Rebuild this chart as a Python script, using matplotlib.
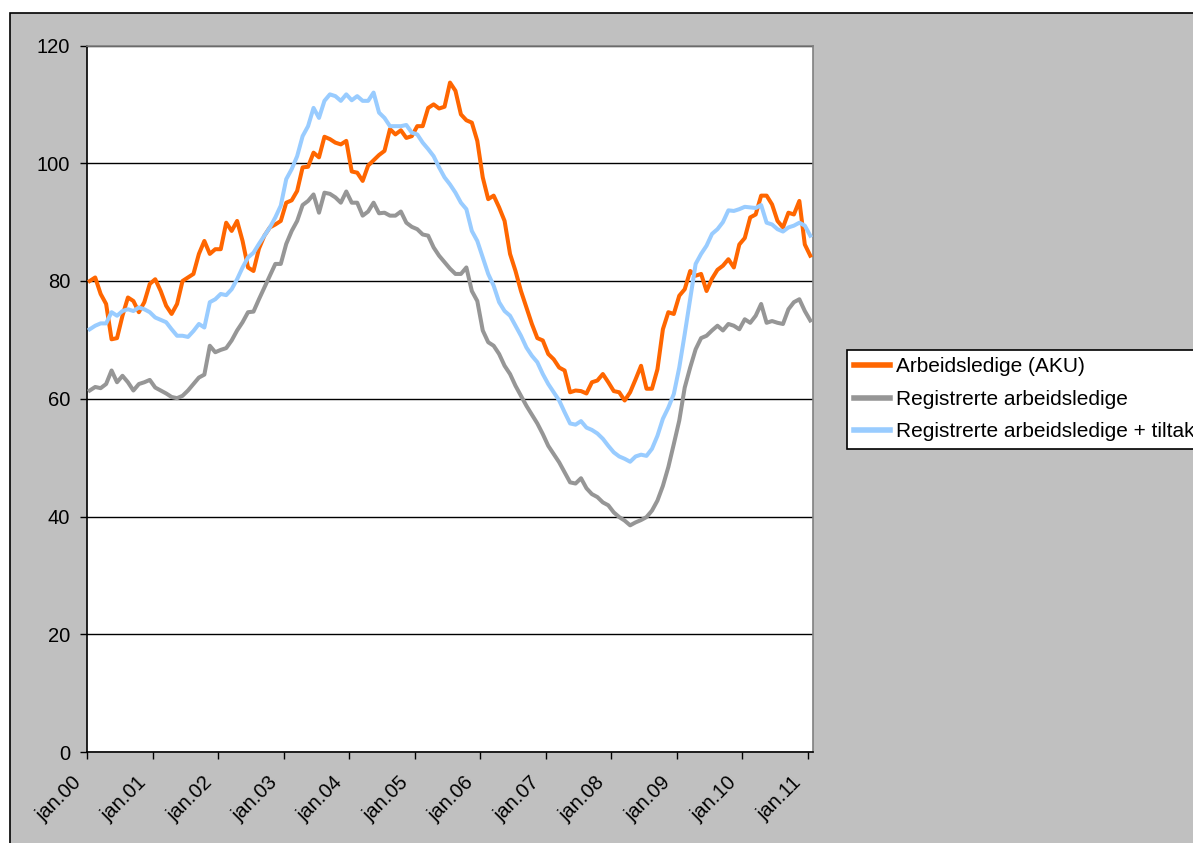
import matplotlib
matplotlib.use("Agg")
import matplotlib.pyplot as plt
import numpy as np
from matplotlib.patches import Rectangle
from matplotlib.transforms import ScaledTranslation

# monthly index values, jan.00 .. jan.11
aku = [
    80.0, 80.6, 77.8, 76.1, 70.1, 70.3, 74.1, 77.2, 76.6, 74.7, 76.4, 79.5,
    80.3, 78.3, 75.8, 74.4, 76.1, 80.0, 80.6, 81.2, 84.6, 86.8, 84.6, 85.4,
    85.4, 89.9, 88.5, 90.2, 86.8, 82.3, 81.7, 85.5, 87.7, 89.1, 89.6, 90.2,
    93.3, 93.7, 95.3, 99.3, 99.4, 101.8, 101.0, 104.5, 104.1, 103.5, 103.2, 103.8,
    98.6, 98.4, 97.0, 99.6, 100.5, 101.4, 102.1, 105.8, 104.9, 105.6, 104.3, 104.6,
    106.3, 106.3, 109.4, 110.0, 109.3, 109.6, 113.7, 112.3, 108.3, 107.3, 106.9, 103.8,
    97.6, 93.9, 94.5, 92.5, 90.2, 84.6, 81.7, 78.3, 75.5, 72.7, 70.3, 69.9,
    67.6, 66.7, 65.3, 64.8, 61.1, 61.4, 61.3, 60.9, 62.8, 63.1, 64.2, 62.8,
    61.3, 61.1, 59.7, 61.1, 63.3, 65.6, 61.7, 61.7, 65.0, 71.8, 74.7, 74.4,
    77.5, 78.6, 81.7, 80.9, 81.2, 78.3, 80.4, 81.9, 82.6, 83.7, 82.3, 86.2,
    87.3, 90.8, 91.3, 94.5, 94.5, 93.0, 90.2, 89.1, 91.6, 91.3, 93.6, 86.2, 84.3,
]
registrerte = [
    61.4, 62.0, 61.8, 62.5, 64.8, 62.8, 63.9, 62.8, 61.4, 62.5, 62.8, 63.2,
    61.9, 61.4, 60.9, 60.3, 60.1, 60.5, 61.4, 62.5, 63.6, 64.1, 69.0, 67.9,
    68.3, 68.6, 69.9, 71.6, 73.0, 74.7, 74.8, 76.9, 78.9, 80.9, 82.9, 82.9,
    86.3, 88.5, 90.2, 92.9, 93.6, 94.7, 91.6, 95.0, 94.8, 94.2, 93.3, 95.2,
    93.3, 93.3, 91.1, 91.8, 93.3, 91.5, 91.6, 91.1, 91.1, 91.8, 89.9, 89.2,
    88.8, 87.9, 87.7, 85.7, 84.3, 83.2, 82.1, 81.2, 81.2, 82.3, 78.3, 76.6,
    71.6, 69.6, 69.0, 67.6, 65.6, 64.2, 62.2, 60.5, 58.8, 57.3, 55.8, 54.0,
    52.0, 50.6, 49.2, 47.5, 45.8, 45.6, 46.5, 44.8, 43.8, 43.3, 42.4, 41.9,
    40.7, 39.9, 39.3, 38.5, 39.0, 39.4, 39.9, 41.0, 42.7, 45.2, 48.4, 52.3,
    56.3, 61.9, 65.3, 68.4, 70.3, 70.7, 71.6, 72.4, 71.6, 72.7, 72.4, 71.8,
    73.5, 72.9, 74.1, 76.1, 72.9, 73.2, 72.9, 72.7, 75.2, 76.4, 76.9, 74.9, 73.3,
]
registrerte_tiltak = [
    71.8, 72.4, 72.8, 72.8, 74.7, 74.1, 74.9, 75.2, 74.9, 75.5, 75.2, 74.7,
    73.8, 73.4, 73.0, 71.8, 70.7, 70.7, 70.5, 71.5, 72.7, 72.1, 76.4, 76.9,
    77.8, 77.6, 78.6, 80.3, 82.3, 84.0, 84.8, 86.3, 87.7, 89.1, 90.8, 92.8,
    97.3, 99.0, 101.2, 104.6, 106.3, 109.4, 107.7, 110.6, 111.7, 111.4, 110.6, 111.7,
    110.7, 111.4, 110.6, 110.6, 112.0, 108.6, 107.7, 106.3, 106.3, 106.3, 106.5, 105.2,
    104.9, 103.5, 102.4, 101.2, 99.3, 97.6, 96.4, 95.0, 93.3, 92.2, 88.5, 86.8,
    84.0, 81.2, 79.2, 76.4, 74.9, 74.1, 72.4, 70.7, 68.7, 67.3, 66.2, 64.2,
    62.5, 61.1, 59.7, 57.7, 55.8, 55.6, 56.2, 55.1, 54.7, 54.1, 53.2, 52.0,
    50.9, 50.2, 49.8, 49.3, 50.2, 50.5, 50.3, 51.5, 53.7, 56.6, 58.5, 60.8,
    65.3, 71.0, 76.9, 82.9, 84.6, 86.0, 88.0, 88.8, 90.0, 92.0, 91.9, 92.2,
    92.6, 92.5, 92.4, 92.9, 89.9, 89.6, 88.8, 88.4, 89.1, 89.4, 89.9, 89.4, 87.7,
]
year_labels = [f"jan.{y:02d}" for y in range(0, 12)]
series_names = ["Arbeidsledige (AKU)", "Registrerte arbeidsledige", "Registrerte arbeidsledige + tiltak"]
series_colors = ["#FF6600", "#969696", "#99CCFF"]

plt.rcParams["font.family"] = ["Liberation Sans", "DejaVu Sans"]
W, H = 1193, 843
fig = plt.figure(figsize=(W / 100, H / 100), dpi=100, facecolor="white")

# Excel-style grey chart area with black border (runs off the right/bottom edges)
fig.patches.append(Rectangle((9.5 / W, -0.05), 1.2, 1 - 13.5 / H + 0.05, transform=fig.transFigure,
                             facecolor="#C0C0C0", edgecolor="black", linewidth=1.2, zorder=-10))

ax = fig.add_axes([87 / W, 1 - 752 / H, (813 - 87) / W, (752 - 45.5) / H])
ax.set_facecolor("white")

x = np.arange(len(aku)) + 0.5
for vals, name, color in zip([aku, registrerte, registrerte_tiltak], series_names, series_colors):
    ax.plot(x, vals, color=color, linewidth=2.9, label=name, solid_joinstyle="round", zorder=3)

ax.set_xlim(0, len(aku))
ax.set_ylim(0, 120)
ax.set_yticks(range(0, 121, 20))
ax.yaxis.grid(True, color="black", linewidth=1.0)
ax.set_axisbelow(True)

ax.set_xticks(range(0, 12 * len(year_labels), 12))
ax.set_xticklabels(year_labels, rotation=45, ha="right", va="center", rotation_mode="anchor")
ax.tick_params(axis="both", direction="out", length=5, width=1, color="black", labelsize=14.5)
ax.tick_params(axis="y", pad=7)
ax.tick_params(axis="x", pad=15)
shift = ScaledTranslation(-9 / 100, 0, fig.dpi_scale_trans)
for lab in ax.get_xticklabels():
    lab.set_transform(lab.get_transform() + shift)

for side in ["left", "bottom"]:
    ax.spines[side].set_color("black")
    ax.spines[side].set_linewidth(1.2)
for side in ["top", "right"]:
    ax.spines[side].set_color("#808080")
    ax.spines[side].set_linewidth(1.2)

leg = fig.legend(loc="upper left", bbox_to_anchor=(847 / W, 1 - 350 / H), frameon=True, fancybox=False,
                 fontsize=15, handlelength=1.7, handletextpad=0.3, labelspacing=0.65,
                 borderpad=0.35, borderaxespad=0, framealpha=1)
leg.get_frame().set_facecolor("white")
leg.get_frame().set_edgecolor("black")
leg.get_frame().set_linewidth(1.2)
for line in leg.get_lines():
    line.set_linewidth(4)

fig.savefig("out.png", dpi=100, facecolor="white")
